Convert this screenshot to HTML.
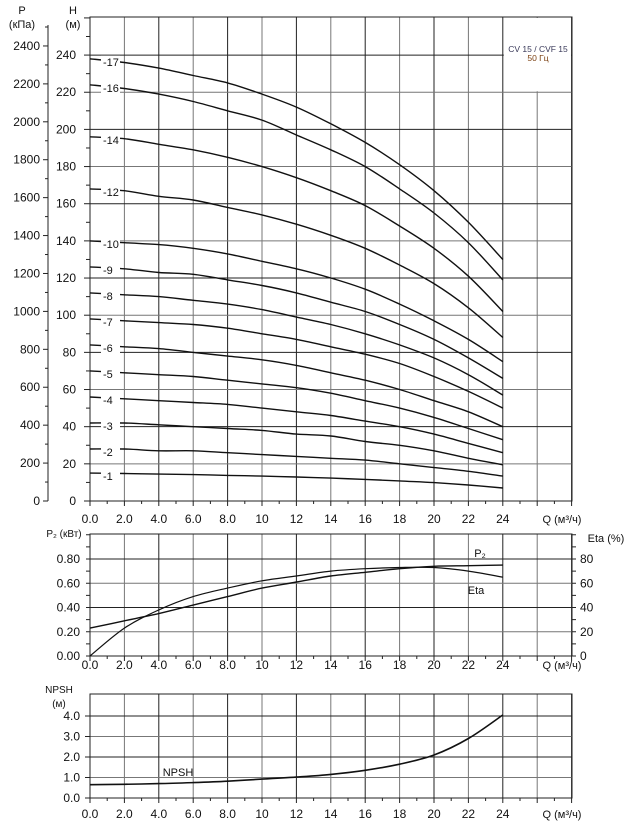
<!DOCTYPE html>
<html><head><meta charset="utf-8"><style>
body{margin:0;background:#fff}
svg{display:block;font-family:"Liberation Sans",sans-serif}
</style></head><body>
<svg id="c" width="632" height="834" viewBox="0 0 632 834"></svg>
<script>
const qTicks=[0,2,4,6,8,10,12,14,16,18,20,22,24];
const qLabels=["0.0","2.0","4.0","6.0","8.0","10","12","14","16","18","20","22","24"];
const stages=[17,16,14,12,10,9,8,7,6,5,4,3,2,1];
const head17=[238,236,233,229,225,219,212,203,193,181,167,150,130];
const head16=[224,222,219,215,210,205,197,189,180,168,155,139,119];
const head14=[196,195,192,189,185,180,174,167,159,148,136,121,102];
const head12=[168,167,164,162,158,154,149,143,136,127,117,104,88];
const head10=[140,139,138,136,133,129,125,120,114,106,97,87,75];
const head9=[126,125,123,122,119,116,112,107,102,95,87,77,66];
const head8=[112,111,110,108,106,103,99,95,90,84,77,68,57];
const head7=[98,97,96,95,93,90,87,83,79,74,67,59,50];
const head6=[84,83,82,80,78,76,73,69,65,60,54,48,40];
const head5=[70,69,68,67,65,63,61,58,54,50,45,39,33];
const head4=[56,55,54,53,52,50,48,46,43,40,36,31,26];
const head3=[42,42,41,40,39,38,36,35,32,30,27,23,19.5];
const head2=[28,28,27,27,26,25,24,23,22,20,18,16,13.4];
const head1=[15,14.8,14.5,14.2,13.8,13.4,12.9,12.3,11.6,10.8,9.9,8.6,7];
const p2Values=[0.23,0.29,0.35,0.42,0.49,0.56,0.61,0.66,0.69,0.72,0.74,0.745,0.75];
const etaValues=[0,23,38,49,56,62,66,70,72,73,73,70,65];
const npshValues=[0.65,0.67,0.7,0.75,0.82,0.92,1.02,1.15,1.35,1.65,2.1,2.9,4.05];
const hTicks=[0,20,40,60,80,100,120,140,160,180,200,220,240];
const pTicks=[0,200,400,600,800,1000,1200,1400,1600,1800,2000,2200,2400];
const p2Ticks=["0.00","0.20","0.40","0.60","0.80"];
const etaTicks=["0","20","40","60","80"];
const npshTicks=["0.0","1.0","2.0","3.0","4.0"];

const heads=[head17,head16,head14,head12,head10,head9,head8,head7,head6,head5,head4,head3,head2,head1];
const NS="http://www.w3.org/2000/svg";
const svg=document.getElementById('c');
function el(tag,attrs,parent){const e=document.createElementNS(NS,tag);for(const k in attrs)e.setAttribute(k,attrs[k]);(parent||svg).appendChild(e);return e;}
function txt(s,x,y,anchor,size,parent,fill){const t=el('text',{x:x,y:y,'text-anchor':anchor||'middle','font-size':size||12,fill:fill||'#111'},parent);t.textContent=s;return t;}

const X0=90,XS=17.2,XR=572;
const xq=q=>X0+q*XS;
const yH=h=>501-h*1.858;
const yP=p=>501-p*0.1896;
const yM=v=>656-v*121.25;
const yN=v=>798-v*20.5;

function grid(g,top,bottom,hlines){
  for(let i=0;i<=14;i++){const x=xq(i*2);el('line',{x1:x,y1:top,x2:x,y2:bottom,stroke:i%2?'#777':'#222','stroke-width':1},g);}
  hlines.forEach((y,i)=>el('line',{x1:X0,y1:y,x2:XR,y2:y,stroke:i%2?'#222':'#777','stroke-width':1},g));
  el('rect',{x:X0,y:top,width:XR-X0,height:bottom-top,fill:'none',stroke:'#222'},g);
  for(let q=0;q<=28;q++){const x=xq(q);el('line',{x1:x,y1:bottom,x2:x,y2:bottom+(q%2?3:5),stroke:'#222'},g);}
}
function xLabels(g,y){
  qTicks.forEach((q,i)=>{const t=txt(qLabels[i],xq(q),y,'middle',12,g);});
  const t=txt('Q (м³/ч)',562,y,'middle',11,g);
}
function path(vals,yf,g,w){
  const pts=vals.map((v,i)=>[xq(qTicks[i]),yf(v)]);
  let d='M'+pts[0][0].toFixed(1)+','+pts[0][1].toFixed(1);
  for(let i=0;i<pts.length-1;i++){
    const p0=pts[Math.max(0,i-1)],p1=pts[i],p2=pts[i+1],p3=pts[Math.min(pts.length-1,i+2)];
    const c1=[p1[0]+(p2[0]-p0[0])/6,p1[1]+(p2[1]-p0[1])/6];
    const c2=[p2[0]-(p3[0]-p1[0])/6,p2[1]-(p3[1]-p1[1])/6];
    d+='C'+c1.map(n=>n.toFixed(1)).join(',')+' '+c2.map(n=>n.toFixed(1)).join(',')+' '+p2.map(n=>n.toFixed(1)).join(',');
  }
  return el('path',{d:d,fill:'none',stroke:'#111','stroke-width':w||1.4,'stroke-linejoin':'round'},g);
}

// ---------- top chart
const gTop=el('g',{});
const hl=[];for(let h=20;h<=240;h+=20)hl.push(yH(h));
grid(gTop,17,501,hl);
const lb=el('rect',{x:xq(24)+1,y:18,width:XR-xq(24)-2,height:yH(220)-19,fill:'#fff'},gTop);

let t=txt('CV 15 / CVF 15',538,52,'middle',8.5,gTop,'#3a3a5a');
t=txt('50 Гц',538,61,'middle',8.5,gTop,'#7a3f10');
for(let h=0;h<=260;h+=10){el('line',{x1:h%20?86:84,y1:yH(h),x2:X0,y2:yH(h),stroke:'#222'},gTop);}
hTicks.forEach(h=>{const t=txt(String(h),76,yH(h)+4,'end',12,gTop);});
t=txt('H',73,14,'middle',11,gTop);
t=txt('(м)',73,28,'middle',11,gTop);
el('line',{x1:48,y1:25,x2:48,y2:501,stroke:'#222'},gTop);
for(let p=0;p<=2500;p+=100){el('line',{x1:p%200?45:43,y1:yP(p),x2:48,y2:yP(p),stroke:'#222'},gTop);}
pTicks.forEach(p=>{const t=txt(String(p),40,yP(p)+4,'end',12,gTop);});
t=txt('P',22,14,'middle',11,gTop);
txt('(кПа)',22,28,'middle',11,gTop);
xLabels(gTop,523);
heads.forEach((arr,i)=>{
  const p=path(arr,yH,gTop,1.4);
  
  
  const y=yH(arr[0]);
  el('rect',{x:101,y:y-3,width:19,height:12,fill:'#fff'},gTop);
  const lt=txt('-'+stages[i],103,y+7,'start',11,gTop);
  
  
});

// ---------- middle chart
const gMid=el('g',{});
grid(gMid,534,656,[yM(0.2),yM(0.4),yM(0.6),yM(0.8)]);
for(let v=0;v<=1;v+=0.1){el('line',{x1:86,y1:yM(v),x2:X0,y2:yM(v),stroke:'#222'},gMid);el('line',{x1:XR,y1:yM(v),x2:XR+4,y2:yM(v),stroke:'#222'},gMid);}
p2Ticks.forEach((s,i)=>{const t=txt(s,80,yM(i*0.2)+4,'end',12,gMid);});
etaTicks.forEach((s,i)=>{const t=txt(s,580,yM(i*0.2)+4,'start',12,gMid);});
t=txt('P₂ (кВт)',64,537,'middle',10,gMid);
t=txt('Eta (%)',606,542,'middle',11,gMid);
xLabels(gMid,669);
let pp=path(p2Values,yM,gMid,1.4);
pp=path(etaValues,v=>yM(v/100),gMid,1.2);
t=txt('P₂',480,557,'middle',11,gMid);
t=txt('Eta',476,594,'middle',11,gMid);

// ---------- bottom chart
const gBot=el('g',{});
grid(gBot,694,798,[yN(1),yN(2),yN(3),yN(4)]);
npshTicks.forEach((s,i)=>{const t=txt(s,80,yN(i)+4,'end',12,gBot);});
for(let v=0;v<=4;v++)el('line',{x1:85,y1:yN(v),x2:X0,y2:yN(v),stroke:'#222'},gBot);
t=txt('NPSH',59,693,'middle',10,gBot);
txt('(м)',59,707,'middle',10,gBot);
xLabels(gBot,818);
pp=path(npshValues,yN,gBot,1.6);
t=txt('NPSH',178,776,'middle',11,gBot);
</script>
</body></html>
